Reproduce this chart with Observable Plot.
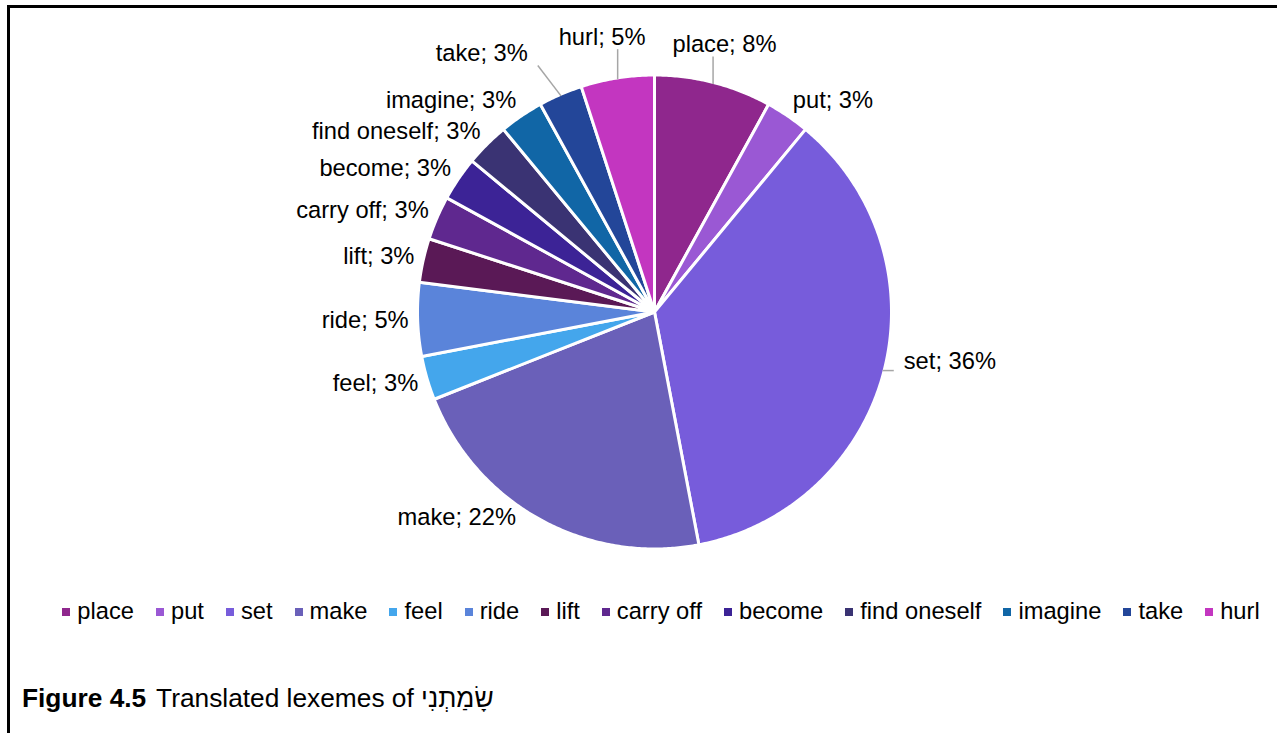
<!DOCTYPE html>
<html><head><meta charset="utf-8">
<script src="https://cdn.jsdelivr.net/npm/d3@7"></script>
<script src="https://cdn.jsdelivr.net/npm/@observablehq/plot@0.6"></script>
<style>
html,body{margin:0;padding:0;background:#fff;overflow:hidden;width:1277px;height:733px;}
body{position:relative;font-family:"Liberation Sans",Arial,sans-serif;color:#000;}
#frame{position:absolute;left:7px;top:5px;width:1400px;height:800px;border:3px solid #000;box-sizing:border-box;}
#pie{position:absolute;left:0;top:0;}
#legend{position:absolute;left:0;width:1322px;top:598px;display:flex;justify-content:center;font-size:23.7px;line-height:27px;white-space:nowrap;}
.item{display:flex;align-items:center;margin:0 11px;}
.sw{width:8px;height:8px;margin-right:7px;flex:none;}
#caption{position:absolute;left:22px;top:683px;font-size:26.3px;white-space:nowrap;}
#caption b{margin-right:3px;}
</style></head><body>
<div id="frame"></div>
<div id="pie"></div>
<div id="legend"></div>
<div id="caption"><b>Figure 4.5</b> Translated lexemes of <span dir="rtl">שָׂמַתְנִי</span></div>
<script>
// ---- data ----
const labels = ["place", "put", "set", "make", "feel", "ride", "lift", "carry off", "become", "find oneself", "imagine", "take", "hurl"];
const values = [8, 3, 36, 22, 3, 5, 3, 3, 3, 3, 3, 3, 5];
const colors = ["#8F278D", "#9A58D4", "#775CDB", "#6A60B9", "#44A6EC", "#5A84DA", "#5A1956", "#5F288F", "#3C2396", "#3A3373", "#1166A6", "#234699", "#C336C0"];

// manually moved data labels (screen px nudge, leader line)
const labelNudge = {
  "place": [-30, -19.5, true],
  "hurl": [6.5, -22, true],
  "take": [-29, -23.5, true],
  "set": [11, -14.7, true],
  "make": [-20, -19, false]
};

// ---- layout ----
const W = 1277, H = 590, cx = 654, cy = 311.5, R = 237, Rv = 235.5, gap = 10.5, hh = 10;
const fontSize = 23.7;
const font = "Liberation Sans, Arial, sans-serif";

const data = labels.map((label, i) => ({label, value: values[i]}));
const arcs = d3.pie().sort(null).value(d => d.value)(data);

const pts = [];
for (const s of arcs) {
  const lab = s.data.label;
  pts.push({label: lab, x: 0, y: 0});
  const n = Math.max(2, Math.ceil((s.endAngle - s.startAngle) / (Math.PI / 360)));
  for (let i = 0; i <= n; i++) {
    const a = s.startAngle + (s.endAngle - s.startAngle) * i / n;
    pts.push({label: lab, x: R * Math.sin(a), y: R * Math.cos(a)});
  }
  pts.push({label: lab, x: 0, y: 0});
}

const ctx = document.createElement("canvas").getContext("2d");
ctx.font = `${fontSize}px "Liberation Sans"`;

const textData = [], leaders = [];
for (const s of arcs) {
  const lab = s.data.label;
  const text = `${lab}; ${s.data.value}%`;
  const w = ctx.measureText(text).width;
  const a = (s.startAngle + s.endAngle) / 2;
  const sn = Math.sin(a), cs = Math.cos(a);
  const Rl = Rv + gap;
  const px = Rl * sn, py = Rl * cs;
  const ax = Math.max(-1, Math.min(1, sn * 3));
  let x = px + ax * w / 2;
  let y = py + cs * hh;
  const nd = labelNudge[lab];
  if (nd) { x += nd[0]; y -= nd[1]; }
  textData.push({text, x, y});
  if (nd && nd[2]) {
    const ex = Rv * sn, ey = Rv * cs;
    const pad = 10;
    const bx = Math.max(x - w / 2 - pad, Math.min(x + w / 2 + pad, ex));
    const by = Math.max(y - 12, Math.min(y + 12, ey));
    leaders.push({x1: ex, y1: ey, x2: bx, y2: by});
  }
}

const chart = Plot.plot({
  width: W, height: H,
  marginLeft: 0, marginRight: 0, marginTop: 0, marginBottom: 0,
  x: {domain: [-cx, W - cx], range: [0, W], axis: null},
  y: {domain: [cy - H, cy], range: [H, 0], axis: null},
  color: {domain: labels, range: colors},
  style: {fontFamily: font, background: "transparent", overflow: "visible"},
  marks: [
    Plot.line(pts, {x: "x", y: "y", z: "label", fill: "label", stroke: "white", strokeWidth: 3, strokeLinejoin: "round"}),
    Plot.link(leaders, {x1: "x1", y1: "y1", x2: "x2", y2: "y2", stroke: "#A6A6A6", strokeWidth: 1.5}),
    Plot.text(textData, {x: "x", y: "y", text: "text", fontSize: fontSize, textAnchor: "middle", lineAnchor: "middle", fill: "black"})
  ]
});
document.getElementById("pie").appendChild(chart);

// legend
const leg = document.getElementById("legend");
labels.forEach((lab, i) => {
  const it = document.createElement("div");
  it.className = "item";
  const sw = document.createElement("span");
  sw.className = "sw";
  sw.style.background = colors[i];
  const t = document.createElement("span");
  t.textContent = lab;
  it.appendChild(sw); it.appendChild(t);
  leg.appendChild(it);
});
</script>
</body></html>
